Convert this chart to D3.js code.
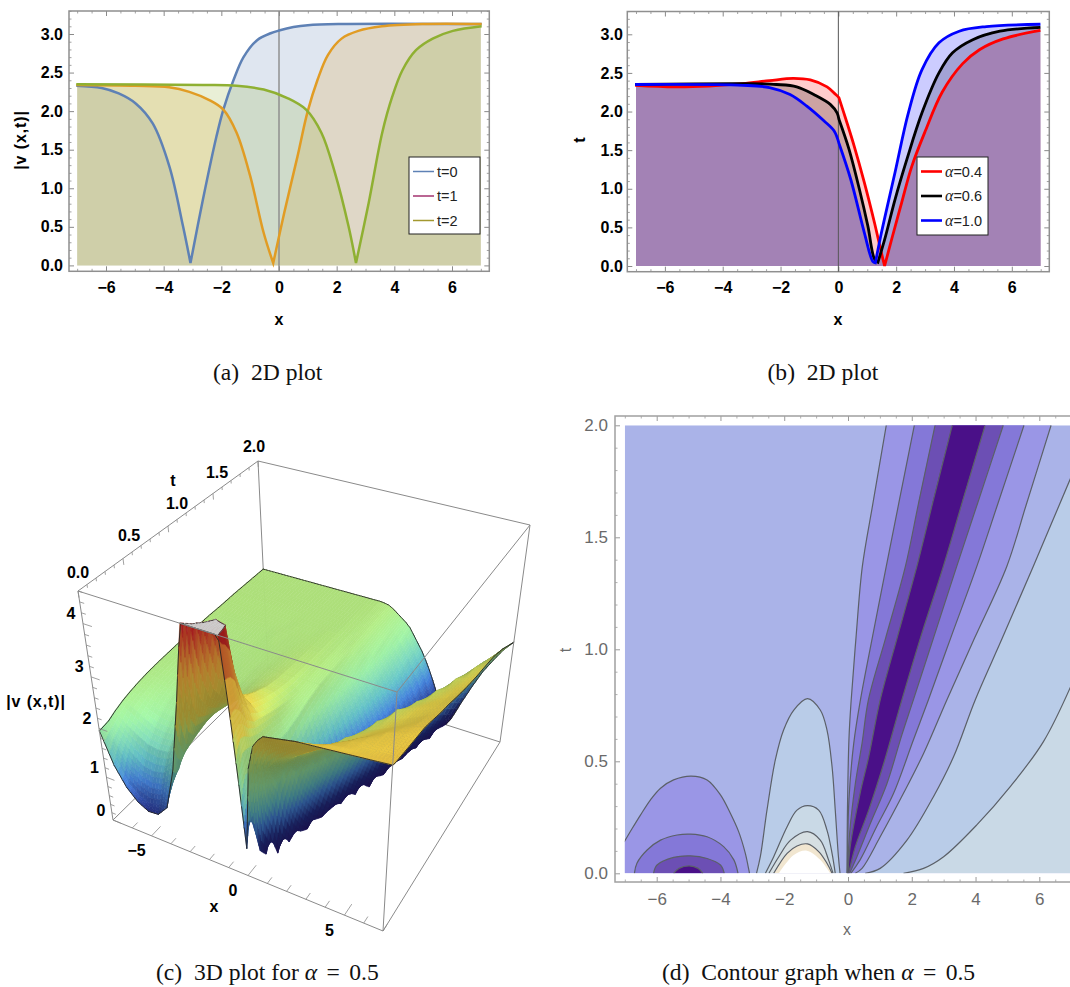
<!DOCTYPE html>
<html><head><meta charset="utf-8">
<script src="https://cdn.jsdelivr.net/npm/d3@7"></script>
<style>html,body{margin:0;padding:0;background:#fff}svg{display:block}</style>
</head><body><div id="chart"></div>
<script>
// ---------- panel (a) ----------
const a0X=[-7.03,-6.15,-5.56,-4.97,-4.38,-3.8,-3.33,-3.07,-2.64,-2.17,-1.93,-1.58,-1.23,-0.76,-0.29,0,0.5,1,2.05,7.03];
const a0Y=[2.33,2.30,2.23,2.10,1.84,1.28,0.51,0.03,0.85,1.67,2.02,2.40,2.70,2.92,3.01,3.045,3.09,3.115,3.13,3.13];
const a1X=[-7.03,-4.98,-3.81,-3.11,-2.4,-1.93,-1.47,-1.0,-0.53,-0.2,0.18,0.64,0.99,1.34,1.7,2.17,2.75,3.57,4.98,7.03];
const a1Y=[2.34,2.33,2.31,2.25,2.14,2.02,1.72,1.16,0.42,0.03,0.68,1.41,1.99,2.41,2.73,2.94,3.04,3.10,3.13,3.13];
const a2X=[-7.03,-2.64,-1.47,-0.53,0.29,0.94,1.47,1.94,2.41,2.67,3.11,3.58,3.93,4.28,4.75,5.33,6.03,7.03];
const a2Y=[2.35,2.34,2.33,2.28,2.17,2.02,1.72,1.20,0.51,0.03,0.81,1.72,2.19,2.53,2.79,2.94,3.04,3.10];
const aCorners=[[-3.07],[-0.2],[2.67]];
const aLegend=["t=0","t=1","t=2"];
// ---------- panel (b) ----------
const b4X=[-7.03,-5.66,-4.48,-3.31,-2.38,-1.56,-0.97,-0.39,-0.09,0.02,0.26,0.55,0.9,1.25,1.49,1.6,1.84,2.19,2.54,3.01,3.59,4.3,4.88,5.7,6.99];
const b4Y=[2.34,2.32,2.33,2.36,2.40,2.43,2.41,2.32,2.22,2.18,1.90,1.55,1.08,0.56,0.17,0,0.34,0.82,1.29,1.75,2.25,2.62,2.80,2.94,3.05];
const b6X=[-7.03,-3.31,-2.14,-1.44,-0.85,-0.27,-0.04,0.02,0.37,0.73,1.02,1.25,1.37,1.6,1.96,2.37,2.89,3.48,3.95,4.65,5.59,6.99];
const b6Y=[2.35,2.36,2.35,2.32,2.22,2.09,1.98,1.90,1.51,0.99,0.52,0.09,0.05,0.34,0.86,1.38,1.98,2.50,2.76,2.93,3.04,3.09];
const b10X=[-7.03,-3.31,-2.38,-1.67,-1.09,-0.5,-0.15,0.02,0.43,0.9,1.19,1.28,1.49,1.96,2.42,2.89,3.48,4.18,5.12,6.99];
const b10Y=[2.35,2.34,2.31,2.22,2.07,1.88,1.75,1.59,1.12,0.43,0.06,0.04,0.43,1.21,1.98,2.54,2.89,3.04,3.10,3.13];
const bCorners=[[0.02,1.6],[0.02,1.37],[0.02,1.28]];
const bLegend=["=0.4","=0.6","=1.0"];
// ---------- panel (c): surface heights ----------
const surfX=[-7,-6.5,-6,-5.5,-5,-4.5,-4,-3.5,-3,-2.5,-2,-1.5,-1,-0.5,-0.25,0,0.25,0.5,0.75,1,1.25,1.5,1.75,2,2.25,2.5,2.75,3,3.25,3.5,3.75,4,4.5,5,5.5,6,6.5,7];
const surfT=[0,0.03,0.07,0.12,0.2,0.3,0.4,0.5,0.6,0.75,0.9,1.05,1.2,1.35,1.5,1.65,1.8,2];
const surfZ=[
[1.95,1.33,.95,.72,.6,.62,.85,1.7,3.1,4.7,6,6,5.2,3.1,1.9, .65,2.3,2.75,2.9,3,3.02,3.04,3.06,3.08,3.1,3.12,3.13,3.14,3.15,3.16,3.17,3.18,3.2,3.22,3.24,3.26,3.28,3.3],
[1.96,1.42,.98,.8,.72,.78,1.02,1.6,2.6,3.6,4.9,5.5,5,3.2,2.2, 1,1.6,2.2,2.5,2.7,2.78,2.85,2.92,2.97,3.01,3.05,3.08,3.1,3.12,3.13,3.15,3.16,3.18,3.2,3.23,3.25,3.27,3.28],
[1.97,1.6,1.2,1.04,.98,1.03,1.22,1.62,2.2,2.98,4.4,5.2,4.9,3.2,2.4, 1.2,.87,1.65,2.1,2.32,2.45,2.57,2.64,2.73,2.8,2.87,2.95,3.02,3.06,3.09,3.12,3.14,3.17,3.19,3.21,3.23,3.25,3.27],
[1.99,1.7,1.45,1.28,1.25,1.3,1.5,1.78,2.12,2.72,3.8,4.9,4.7,3.1,2.4, 1.1,.42,1.12,1.7,2.06,2.25,2.38,2.52,2.58,2.65,2.72,2.78,2.85,2.93,3,3.05,3.08,3.13,3.17,3.19,3.21,3.23,3.26],
[2.06,1.87,1.72,1.6,1.57,1.6,1.72,2,2.17,2.62,3.2,4.2,3.7,2.8,2.35, 1.6,.18,.7,1.3,1.8,2.08,2.22,2.36,2.5,2.56,2.63,2.69,2.75,2.82,2.88,2.95,3,3.08,3.13,3.16,3.19,3.21,3.24],
[2.13,2.05,1.92,1.8,1.77,1.8,1.95,2.1,2.22,2.53,2.9,3.3,3.05,2.62,2.3, 1.87,.62,.03,.55,1.12,1.53,1.95,2.11,2.24,2.37,2.5,2.56,2.62,2.68,2.74,2.8,2.86,2.98,3.06,3.11,3.15,3.19,3.22],
[2.18,2.12,2.03,1.97,1.95,1.97,2.07,2.17,2.26,2.45,2.68,2.85,2.75,2.55,2.28, 2,.95,.39,.15,.63,1.05,1.44,1.8,2.06,2.18,2.3,2.43,2.53,2.58,2.63,2.68,2.73,2.84,2.96,3.06,3.12,3.17,3.2],
[2.22,2.18,2.12,2.07,2.06,2.08,2.14,2.21,2.28,2.4,2.56,2.72,2.66,2.48,2.25, 2.02,1.22,.69,.22,.25,.68,1.08,1.43,1.73,2.02,2.13,2.26,2.38,2.51,2.56,2.62,2.67,2.76,2.86,2.96,3.05,3.12,3.18],
[2.25,2.22,2.18,2.14,2.13,2.15,2.19,2.24,2.3,2.37,2.48,2.62,2.58,2.42,2.2, 2.02,1.39,.94,.53,.08,.35,.75,1.12,1.42,1.69,1.94,2.09,2.21,2.33,2.45,2.53,2.58,2.67,2.76,2.86,2.96,3.06,3.13],
[2.28,2.26,2.23,2.21,2.2,2.22,2.25,2.28,2.31,2.36,2.43,2.5,2.49,2.35,2.22, 2.08,1.7,1.23,.82,.47,.1,.27,.64,1,1.27,1.53,1.75,1.97,2.12,2.26,2.4,2.52,2.62,2.69,2.76,2.85,2.95,3.04],
[2.3,2.29,2.27,2.26,2.26,2.27,2.29,2.31,2.33,2.36,2.4,2.44,2.43,2.31,2.25, 2.18,1.9,1.58,1.2,.84,.5,.15,.2,.54,.88,1.16,1.41,1.62,1.81,2,2.16,2.31,2.56,2.64,2.72,2.8,2.88,2.97],
[2.32,2.31,2.3,2.29,2.29,2.3,2.31,2.32,2.33,2.35,2.38,2.41,2.4,2.33,2.27, 2.24,2,1.75,1.51,1.2,.9,.56,.21,.14,.48,.78,1.07,1.3,1.52,1.68,1.85,2.02,2.3,2.53,2.62,2.7,2.78,2.88],
[2.33,2.32,2.32,2.31,2.31,2.32,2.32,2.33,2.34,2.35,2.37,2.39,2.38,2.34,2.29, 2.25,2.08,1.88,1.68,1.47,1.22,.96,.6,.29,.03,.34,.66,1,1.2,1.4,1.58,1.73,2.03,2.32,2.55,2.63,2.72,2.8],
[2.34,2.33,2.33,2.33,2.33,2.33,2.33,2.34,2.34,2.35,2.36,2.37,2.37,2.34,2.3, 2.27,2.12,1.96,1.79,1.62,1.43,1.22,1,.67,.34,.04,.26,.56,.87,1.1,1.3,1.5,1.78,2.05,2.35,2.58,2.66,2.73],
[2.34,2.34,2.34,2.34,2.34,2.34,2.34,2.34,2.35,2.35,2.35,2.36,2.36,2.33,2.31, 2.3,2.2,2.07,1.9,1.75,1.6,1.4,1.2,1,.68,.38,.1,.2,.49,.77,1.03,1.22,1.58,1.85,2.12,2.4,2.6,2.68],
[2.35,2.35,2.35,2.35,2.35,2.35,2.35,2.35,2.35,2.35,2.35,2.35,2.35,2.33,2.32, 2.3,2.22,2.12,2.02,1.86,1.71,1.55,1.37,1.17,.96,.67,.39,.11,.17,.42,.69,.94,1.34,1.66,1.94,2.2,2.45,2.62],
[2.35,2.35,2.35,2.35,2.35,2.35,2.35,2.35,2.35,2.35,2.35,2.35,2.35,2.34,2.33, 2.31,2.25,2.17,2.09,1.97,1.82,1.67,1.53,1.34,1.14,.94,.68,.42,.16,.1,.36,.62,1.08,1.46,1.76,2.05,2.27,2.5],
[2.35,2.35,2.35,2.35,2.35,2.35,2.35,2.35,2.35,2.35,2.35,2.35,2.35,2.35,2.34, 2.32,2.27,2.2,2.13,2.06,1.97,1.83,1.69,1.55,1.38,1.19,.98,.75,.52,.27,.03,.21,.68,1.1,1.48,1.78,2.06,2.27]
];
const heightStops=[0,0.6,1.05,1.4,1.9,2.35,2.55,2.75,3.2,3.7,4.6];
const heightColors=["#2a1470","#252f88","#4583dc","#62c0c8","#98e8a0","#aadc78","#cfe868","#ecd84c","#eecb44","#e8a038","#b02020"];
const cXTicks=[-5,0,5], cTTicks=[0,0.5,1,1.5,2], cZTicks=[0,1,2,3,4];
// ---------- panel (d): contour lines, as [x,t] ----------
const L05=[[0,0],[.07,.12],[.38,.357],[.65,.52],[1.01,.774],[1.54,1.05],[2.16,1.37],[2.65,1.65],[3.27,2]];
const R05=[[.02,0],[.23,.119],[.65,.282],[1.12,.49],[1.69,.774],[2.27,1.05],[2.99,1.37],[3.57,1.65],[4.3,2]];
const L10=[[-.02,0],[.05,.177],[.23,.4],[.44,.58],[.64,.774],[1.18,1.05],[1.8,1.37],[2.21,1.65],[2.73,2]];
const R10=[[.05,0],[.28,.074],[.7,.222],[1.22,.4],[1.69,.618],[2.05,.774],[2.68,1.05],[3.41,1.37],[4.06,1.65],[4.87,2]];
const L15=[[-.02,0],[.03,.33],[.18,.58],[.39,.774],[.76,1.05],[1.2,1.37],[1.59,1.65],[2.08,2]];
const R15=[[.09,0],[.38,.06],[.9,.209],[1.43,.357],[2.05,.595],[2.52,.774],[3.22,1.05],[4.04,1.37],[4.7,1.65],[5.52,2]];
const L20=[[-.03,0],[-.02,.25],[.03,.6],[.1,.774],[.25,1.05],[.45,1.37],[.78,1.65],[1.2,2]];
const R20=[[.23,0],[.44,.022],[1.01,.163],[1.74,.357],[2.37,.535],[3.1,.774],[3.97,1.05],[4.98,1.37],[5.6,1.65],[6.37,2]];
const R25=[[.54,0],[1.01,.022],[1.85,.148],[2.68,.342],[3.31,.52],[3.99,.774],[4.84,1.05],[5.81,1.37],[7,1.77]];
const R30=[[1.74,0],[2.37,.022],[3,.074],[4.04,.216],[5.09,.387],[6.13,.588],[7.02,.845]];
const dip20=[[-7.02,.14],[-6.77,.2],[-6.51,.26],[-6.2,.327],[-5.88,.38],[-5.47,.417],[-4.92,.434],[-4.42,.417],[-4,.35],[-3.69,.268],[-3.43,.186],[-3.22,.089],[-3.11,.015],[-3.09,0]];
const dip15=[[-6.7,0],[-6.62,.045],[-6.3,.104],[-5.88,.148],[-5.36,.171],[-4.94,.175],[-4.42,.163],[-3.9,.119],[-3.58,.06],[-3.45,0]];
const dip10=[[-6.1,0],[-5.99,.037],[-5.47,.071],[-4.94,.078],[-4.42,.066],[-4,.037],[-3.88,0]];
const dip05=[[-5.47,0],[-5.3,.022],[-4.98,.033],[-4.7,.022],[-4.55,0]];
const dome25=[[-2.87,0],[-2.75,.074],[-2.54,.283],[-2.28,.506],[-2.02,.64],[-1.7,.729],[-1.27,.78],[-.87,.729],[-.66,.64],[-.5,.476],[-.4,.283],[-.3,.074],[-.25,0]];
const dome30=[[-2.59,0],[-2.33,.074],[-1.91,.208],[-1.6,.282],[-1.27,.302],[-.92,.282],[-.66,.193],[-.5,.089],[-.4,0]];
const dome35=[[-2.48,0],[-2.17,.074],[-1.8,.148],[-1.27,.186],[-.87,.148],[-.61,.06],[-.47,0]];
const dome40=[[-2.33,0],[-1.91,.089],[-1.6,.122],[-1.27,.131],[-.92,.097],[-.66,.045],[-.5,0]];
const dome45=[[-2.17,0],[-1.7,.082],[-1.29,.101],[-.87,.06],[-.56,0]];
const bandColors={b0:"#4a1088",b05:"#6c4fb4",b10:"#8478d8",b15:"#9a96e6",b20:"#aab3e8",b25:"#b9cce8",b30:"#c9d9e6",b35:"#d6dfe2",b40:"#f1e6d0"};

// ---------- page ----------
const svg=d3.select("#chart").append("svg").attr("width",1070).attr("height",987).attr("viewBox","0 0 1070 987");
const SANS="'Liberation Sans',Arial,sans-serif", SERIF="'Liberation Serif','Times New Roman',serif";
const fmtD=d3.format("d"), fmt1=d3.format(".1f");

function frame(g,x,y,box,xMaj,xMin,yMaj,yMin,o){
  const sides=[
    [d3.axisBottom(x),`translate(0,${box.b})`,xMaj,xMin,fmtD,o.padX],
    [d3.axisTop(x),`translate(0,${box.t})`,xMaj,xMin,null,0],
    [d3.axisLeft(y),`translate(${box.l},0)`,yMaj,yMin,fmt1,o.padY],
    [d3.axisRight(y),`translate(${box.r},0)`,yMaj,yMin,null,0]];
  sides.forEach(([ax,tr,maj,min,f,pad])=>{
    const gm=g.append("g").attr("transform",tr).call(ax.tickValues(min).tickSize(-2.5).tickFormat(""));
    gm.select(".domain").remove();
    gm.selectAll("line").attr("stroke",o.tick).attr("stroke-width",0.8);
    const gM=g.append("g").attr("transform",tr).call(ax.tickValues(maj).tickSize(-5).tickPadding(pad).tickFormat(f||""));
    gM.select(".domain").remove();
    gM.selectAll("line").attr("stroke",o.tick).attr("stroke-width",1);
    gM.selectAll("text").attr("font-family",SANS).attr("font-size",o.fs).attr("font-weight",o.weight).attr("fill",o.text);
  });
  g.append("rect").attr("x",box.l).attr("y",box.t).attr("width",box.r-box.l).attr("height",box.b-box.t)
    .attr("fill","none").attr("stroke",o.frame).attr("stroke-width",1.5);
}
const xMajor=[-6,-4,-2,0,2,4,6];
const xMinor=d3.range(-7,7.01,0.5).filter(d=>d%2!==0);
const vMajor=[0,.5,1,1.5,2,2.5,3];
const vMinor=d3.range(0,3.31,0.1).map(d=>+d.toFixed(1)).filter(d=>Math.round(d*10)%5!==0);

function segmentsOf(pts,corners){
  const segs=[];let cur=[];
  pts.forEach(p=>{cur.push(p);if(corners.includes(p[0])){segs.push(cur);cur=[p];}});
  segs.push(cur);
  return segs;
}
function panel2D(box,xr,yr,series,vline,yLabel,xLabelPos,yLabelPos,padY){
  const g=svg.append("g");
  const x=d3.scaleLinear().domain([-6,6]).range(xr);
  const y=d3.scaleLinear().domain([0,3]).range(yr);
  const line=d3.line().x(d=>x(d[0])).y(d=>y(d[1])).curve(d3.curveCatmullRom.alpha(0.5));
  const pathFor=(pts,corners)=>segmentsOf(pts,corners).map((s,k)=>k?"L"+line(s).slice(1):line(s)).join("");
  series.forEach(s=>{
    const pts=s.x.map((v,i)=>[Math.max(-7,Math.min(7,v)),s.y[i]]);
    g.append("path").attr("d",pathFor(pts,s.corners)+`L${x(7)},${y(0)}L${x(-7)},${y(0)}Z`).attr("fill",s.fill).attr("fill-opacity",0.2).attr("stroke","none");
  });
  frame(g,x,y,box,xMajor,xMinor,vMajor,vMinor,{tick:"#8a8a8a",frame:"#8f8f8f",fs:16,weight:"bold",text:"#000",padX:10,padY});
  g.append("line").attr("x1",x(0)).attr("x2",x(0)).attr("y1",box.t).attr("y2",box.b)
    .attr("stroke",vline.c).attr("stroke-width",vline.w);
  series.forEach(s=>{
    const pts=s.x.map((v,i)=>[v,s.y[i]]);
    g.append("path").attr("d",pathFor(pts,s.corners)).attr("fill","none").attr("stroke",s.stroke).attr("stroke-width",s.w).attr("stroke-linejoin","miter");
  });
  g.append("text").attr("x",xLabelPos[0]).attr("y",xLabelPos[1]).attr("text-anchor","middle")
    .attr("font-family",SANS).attr("font-weight","bold").attr("font-size",16).text("x");
  g.append("text").attr("transform",`translate(${yLabelPos[0]},${yLabelPos[1]}) rotate(-90)`).attr("text-anchor","middle")
    .attr("font-family",SANS).attr("font-weight","bold").attr("font-size",16).attr("letter-spacing",yLabel.length>1?0.9:0).text(yLabel);
  return g;
}
function legendBox(g,box,entries,w,fmt){
  g.append("rect").attr("x",box.l).attr("y",box.t).attr("width",box.r-box.l).attr("height",box.b-box.t)
    .attr("fill","#fff").attr("stroke","#222").attr("stroke-width",1);
  entries.forEach((e,i)=>{
    const yy=box.t+14.5+i*24.5;
    g.append("line").attr("x1",box.l+4).attr("x2",box.l+25).attr("y1",yy).attr("y2",yy).attr("stroke",e.c).attr("stroke-width",w);
    const t=g.append("text").attr("x",box.l+28).attr("y",yy+5).attr("font-family",SANS).attr("font-size",14.5).attr("fill","#222");
    fmt(t,e.t);
  });
}
// (a)
const ga=panel2D({l:69,r:489.3,t:11,b:271.3},[106,452],[265.4,34],[
  {x:a0X,y:a0Y,fill:"#5e81b5",stroke:"#5e81b5",w:2.5,corners:aCorners[0]},
  {x:a1X,y:a1Y,fill:"#e19c24",stroke:"#e19c24",w:2.5,corners:aCorners[1]},
  {x:a2X,y:a2Y,fill:"#8fb032",stroke:"#8fb032",w:2.5,corners:aCorners[2]}
],{c:"#8a8a8a",w:1.4},"|v (x,t)|",[279,325],[26,140],6);
legendBox(ga,{l:409,r:480,t:157,b:234},[{c:"#5e81b5",t:aLegend[0]},{c:"#a3336f",t:aLegend[1]},{c:"#a3982f",t:aLegend[2]}],1.5,(t,s)=>t.text(s));
// (b)
const gb=panel2D({l:627.3,r:1049.3,t:11.5,b:271.7},[664.9,1011.8],[266,34.3],[
  {x:b4X,y:b4Y,fill:"#ff0000",stroke:"#ff0000",w:2.8,corners:bCorners[0]},
  {x:b6X,y:b6Y,fill:"#000000",stroke:"#000000",w:2.8,corners:bCorners[1]},
  {x:b10X,y:b10Y,fill:"#0000ff",stroke:"#0000ff",w:2.8,corners:bCorners[2]}
],{c:"#555",w:1},"t",[838,325],[585,140],4.5);
legendBox(gb,{l:917,r:988,t:157,b:235},[{c:"#f00",t:bLegend[0]},{c:"#000",t:bLegend[1]},{c:"#00f",t:bLegend[2]}],2.6,(t,s)=>{
  t.append("tspan").attr("font-family",SERIF).attr("font-style","italic").attr("font-size",16).text("α");
  t.append("tspan").text(s);
});

// (c) 3D box projection
const zTop=4.6;
const corner={E:[113,820],H:[383,931],F:[268,668],G:[500,742],A:[78,591],D:[397,692],B:[258,461],C:[530,525]};
const uS=d3.scaleLinear().domain([-7,7]).range([0,1]);
const vS=d3.scaleLinear().domain([0,2]).range([0,1]);
const wS=d3.scalePow().exponent(1.1).domain([0,zTop]).range([0,1]);
const mix=(p,q,f)=>[p[0]+(q[0]-p[0])*f,p[1]+(q[1]-p[1])*f];
function proj(x,t,z){
  const u=uS(x),v=vS(t),w=wS(Math.max(0,Math.min(zTop,z)));
  const bot=mix(mix(corner.E,corner.H,u),mix(corner.F,corner.G,u),v);
  const top=mix(mix(corner.A,corner.D,u),mix(corner.B,corner.C,u),v);
  return mix(bot,top,w);
}
const gc=svg.append("g");
const pathOf=d3.line();
const boxEdge=(g,p,q)=>g.append("path").attr("d",pathOf([p,q])).attr("stroke","#8a8a8a").attr("stroke-width",1).attr("fill","none");
[[corner.B,corner.F],[corner.F,corner.E],[corner.F,corner.G]].forEach(e=>boxEdge(gc,e[0],e[1]));

const colorOf=d3.scaleLinear().domain(heightStops).range(heightColors).interpolate(d3.interpolateRgb).clamp(true);
function area2(p){let s=0;p.forEach((a,i)=>{const b=p[(i+1)%p.length];s+=a[0]*b[1]-b[0]*a[1];});return s/2;}
function clipZ(poly,below){
  const out=[];
  poly.forEach((a,i)=>{
    const b=poly[(i+1)%poly.length];
    const ain=below?a[2]<=zTop:a[2]>=zTop, bin=below?b[2]<=zTop:b[2]>=zTop;
    if(ain) out.push(a);
    if(ain!==bin){const f=(zTop-a[2])/(b[2]-a[2]);out.push([a[0]+(b[0]-a[0])*f,a[1]+(b[1]-a[1])*f,zTop]);}
  });
  return out;
}
const SUB=3, facets=[];
const refSign=Math.sign(area2([proj(-7,0,0),proj(7,0,0),proj(7,2,0),proj(-7,2,0)]));
const Lv=[0.46,-0.22,0.86];
const bil=(i,j,su,sv)=>{
  const x=surfX[j]+(surfX[j+1]-surfX[j])*su, t=surfT[i]+(surfT[i+1]-surfT[i])*sv;
  const z=(surfZ[i][j]*(1-su)+surfZ[i][j+1]*su)*(1-sv)+(surfZ[i+1][j]*(1-su)+surfZ[i+1][j+1]*su)*sv;
  return [x,t,z];
};
for(let i=surfT.length-2;i>=0;i--){
  for(let j=0;j<surfX.length-1;j++){
    for(let b=SUB-1;b>=0;b--){
      for(let a=0;a<SUB;a++){
        const q=[bil(i,j,a/SUB,b/SUB),bil(i,j,(a+1)/SUB,b/SUB),bil(i,j,(a+1)/SUB,(b+1)/SUB),bil(i,j,a/SUB,(b+1)/SUB)];
        const zm=d3.mean(q,d=>d[2]);
        const dzdx=((q[1][2]+q[2][2])-(q[0][2]+q[3][2]))/2/(q[1][0]-q[0][0])*(14/1.2)/zTop*0.9;
        const dzdt=((q[2][2]+q[3][2])-(q[0][2]+q[1][2]))/2/(q[3][1]-q[0][1])*2/zTop*0.9;
        const nl=Math.hypot(dzdx,dzdt,1);
        const dot=(-dzdx*Lv[0]-dzdt*Lv[1]+Lv[2])/nl;
        const flat=q.map(d=>proj(d[0],d[1],d[2]));
        const under=Math.sign(area2(flat))!==refSign;
        const f=under?0.62+0.1*Math.abs(dot)+0.28*Math.max(0,Math.min(1,(zm-3)/1.6)):Math.max(0.72,0.62+0.46*dot);
        const c=d3.rgb(colorOf(zm));
        const fill=d3.rgb(c.r*f,c.g*f,c.b*f).formatRgb();
        const low=clipZ(q,true);
        const high=clipZ(q,false);
        if(low.length>2){const pts=low.map(d=>proj(d[0],d[1],d[2]));facets.push({p:pts,fill,stroke:fill,w:0.6,close:true});}
        if(high.length>2){const pts=high.map(d=>proj(d[0],d[1],zTop));facets.push({p:pts,fill:"#cdcdcd",stroke:"#cdcdcd",w:0.6,close:true});}
        if(low.length>2&&high.length>2){
          const cut=low.filter(d=>d[2]===zTop).map(d=>proj(d[0],d[1],zTop));
          if(cut.length===2)facets.push({p:cut,fill:"none",stroke:"#222",w:0.8,close:false});
        }
        const edge=(m,n)=>facets.push({p:[proj(m[0],m[1],m[2]),proj(n[0],n[1],n[2])],fill:"none",stroke:"#222",w:0.9,close:false});
        if(i===0&&b===0)edge(q[0],q[1]);
        if(i===surfT.length-2&&b===SUB-1)edge(q[3],q[2]);
        if(j===0&&a===0)edge(q[0],q[3]);
        if(j===surfX.length-2&&a===SUB-1)edge(q[1],q[2]);
      }
    }
  }
}
gc.append("g").selectAll("path").data(facets).join("path")
  .attr("d",d=>pathOf(d.p)+(d.close?"Z":""))
  .attr("fill",d=>d.fill).attr("stroke",d=>d.stroke).attr("stroke-width",d=>d.w).attr("stroke-linecap","round");
[[corner.A,corner.B],[corner.B,corner.C],[corner.C,corner.D],[corner.D,corner.A],[corner.A,corner.E],[corner.C,corner.G],[corner.D,corner.H],[corner.E,corner.H],[corner.H,corner.G]].forEach(e=>boxEdge(gc,e[0],e[1]));
const tickLine=(p,q,w)=>gc.append("path").attr("d",pathOf([p,q])).attr("stroke","#8a8a8a").attr("stroke-width",w).attr("fill","none");
d3.range(-7,7.01,1).forEach(v=>{const M=cXTicks.includes(v);tickLine(proj(v,0,0),proj(v,M?0.12:0.07,0),0.8);});
d3.range(0,2.01,0.1).forEach(v=>{const k=+v.toFixed(1),M=cTTicks.includes(k);tickLine(proj(-7,k,zTop),proj(-7,k,zTop-(M?0.12:0.06)),0.8);});
d3.range(0,4.61,0.2).forEach(v=>{const k=+v.toFixed(1),M=cZTicks.includes(k);tickLine(proj(-7,0,k),proj(M?-6.6:-6.8,0,k),0.8);});
const label3=(x,y,s,size,sp)=>gc.append("text").attr("x",x).attr("y",y).attr("text-anchor","middle").attr("dominant-baseline","central")
  .attr("font-family",SANS).attr("font-weight","bold").attr("font-size",size||16).attr("letter-spacing",sp||0).text(s);
cXTicks.forEach(v=>{const p=proj(v,0,0);label3(p[0]-15,p[1]+15,fmtD(v));});
const tDx=[0,6,9,4,-4], tDy=[-19,-23,-23,-21,-15];
cTTicks.forEach((v,i)=>{const p=proj(-7,v,zTop);label3(p[0]+tDx[i],p[1]+tDy[i],fmt1(v));});
cZTicks.forEach(v=>{const p=proj(-7,0,v);label3(p[0]-12,p[1]-10,fmtD(v));});
label3(173,480,"t");
label3(214,906,"x");
label3(36,701,"|v (x,t)|",16,0.9);

// (d) contour graph
const gd=svg.append("g");
const dx=d3.scaleLinear().domain([-6,6]).range([656.7,1039.3]);
const dy=d3.scaleLinear().domain([0,2]).range([873.3,425.3]);
const dBox={l:615,r:1076,t:416,b:882};
gd.append("clipPath").attr("id","dclip").append("rect").attr("x",dx(-7)).attr("y",dy(2)).attr("width",dx(7)-dx(-7)).attr("height",dy(0)-dy(2));
const gFill=gd.append("g").attr("clip-path","url(#dclip)");
const cLine=d3.line().x(d=>dx(d[0])).y(d=>dy(d[1])).curve(d3.curveCatmullRom.alpha(0.5));
gFill.append("rect").attr("x",dx(-7)).attr("y",dy(2)).attr("width",dx(7)-dx(-7)).attr("height",dy(0)-dy(2)).attr("fill",bandColors.b20);
const fillP=(d,c)=>gFill.append("path").attr("d",d).attr("fill",c).attr("stroke","none");
const rev=a=>a.slice().reverse();
const between=(l,r)=>cLine(l)+"L"+cLine(rev(r)).slice(1)+"Z";
const toCorners=(l,cs)=>cLine(l)+cs.map(c=>"L"+dx(c[0])+","+dy(c[1])).join("")+"Z";
fillP(toCorners(R25,[[7.1,1.77],[7.1,0]]),bandColors.b25);
fillP(toCorners(R30,[[7.1,.845],[7.1,0]]),bandColors.b30);
fillP(between(L20,R20),bandColors.b15);
fillP(between(L15,R15),bandColors.b10);
fillP(between(L10,R10),bandColors.b05);
fillP(between(L05,R05),bandColors.b0);
fillP(toCorners(dip20,[[-7.1,0],[-7.1,.14]]),bandColors.b15);
[[dip15,"b10"],[dip10,"b05"],[dip05,"b0"],[dome25,"b25"],[dome30,"b30"],[dome35,"b35"],[dome40,"b40"]].forEach(([a,c])=>fillP(cLine(a)+"Z",bandColors[c]));
fillP(cLine(dome45)+"Z","#ffffff");
[L05,R05,L10,R10,L15,R15,L20,R20,R25,R30,dip20,dip15,dip10,dip05,dome25,dome30,dome35,dome40].forEach(a=>{
  gFill.append("path").attr("d",cLine(a)).attr("fill","none").attr("stroke","#5b6068").attr("stroke-width",1.2);
});
const dxMinor=d3.range(-7,7.01,0.5).filter(d=>d%2!==0);
const dyMinor=d3.range(0,2.05,0.1).map(d=>+d.toFixed(1)).filter(d=>Math.round(d*10)%5!==0);
frame(gd,dx,dy,dBox,xMajor,dxMinor,[0,.5,1,1.5,2],dyMinor,{tick:"#9a9a9a",frame:"#a0a0a0",fs:17,weight:"normal",text:"#6a6a6a",padX:11,padY:7});
gd.append("text").attr("x",847).attr("y",935).attr("text-anchor","middle").attr("font-family",SANS).attr("font-size",16).attr("fill","#6a6a6a").text("x");
gd.append("text").attr("transform","translate(571,650) rotate(-90)").attr("text-anchor","middle").attr("font-family",SANS).attr("font-size",16).attr("fill","#6a6a6a").text("t");

// captions
function caption(x,y,lab,rest,alpha){
  const t=svg.append("text").attr("x",x).attr("y",y).attr("font-family",SERIF).attr("font-size",23.6).attr("fill","#111");
  t.append("tspan").text(lab+"\u00A0\u00A0"+rest);
  if(alpha){
    t.append("tspan").attr("font-style","italic").text("α");
    t.append("tspan").attr("word-spacing","3.5px").text(" = 0.5");
  }
}
caption(213,380,"(a)","2D plot");
caption(767.5,380,"(b)","2D plot");
caption(156,980,"(c)","3D plot for ",true);
caption(662,980,"(d)","Contour graph when ",true);
</script></body></html>
